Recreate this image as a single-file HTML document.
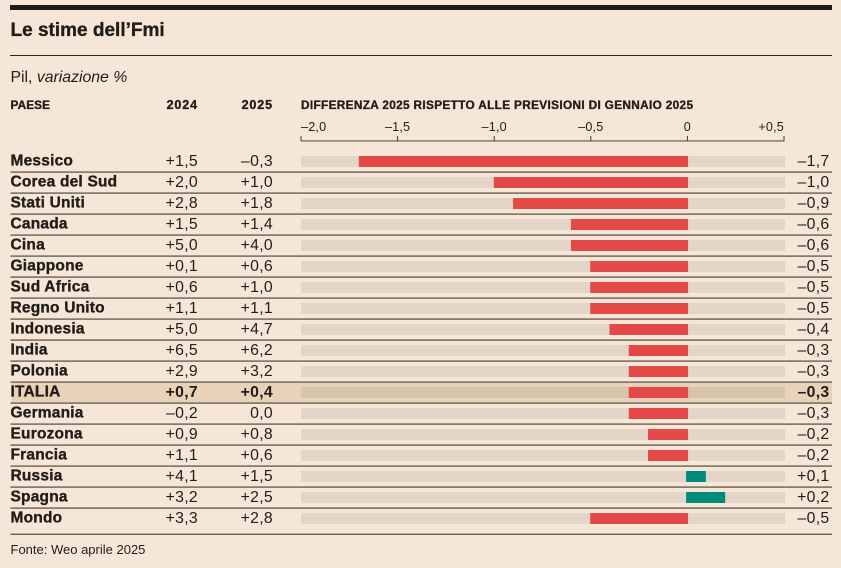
<!DOCTYPE html>
<html lang="it">
<head>
<meta charset="utf-8">
<title>Le stime dell'Fmi</title>
<style>
html,body{margin:0;padding:0;background:#f5e6d7;width:841px;height:568px;overflow:hidden}
svg{display:block}
text{font-family:"Liberation Sans",sans-serif;fill:#211d18}
.heavy{stroke:#211d18;stroke-width:0.35px;paint-order:stroke}
</style>
</head>
<body>
<svg id="chart" xmlns="http://www.w3.org/2000/svg" width="841" height="568" viewBox="0 0 841 568">
  <rect x="0" y="0" width="841" height="568" fill="#f5e6d7"/>
  <rect x="10" y="5" width="822" height="5" fill="#1e1a15"/>
  <text class="heavy" x="10.5" y="36" font-size="19" font-weight="700">Le stime dell’Fmi</text>
  <rect x="10" y="55" width="822" height="1" fill="#2a251f"/>
  <text x="10.5" y="82" font-size="15.8" fill="#3a352e">Pil, <tspan font-style="italic">variazione %</tspan></text>
  <text class="heavy" x="10.5" y="109" font-size="11.8" font-weight="700" letter-spacing="0.1">PAESE</text>
  <text class="heavy" x="198" y="109" font-size="12.5" font-weight="700" text-anchor="end" letter-spacing="0.9">2024</text>
  <text class="heavy" x="273" y="109" font-size="12.5" font-weight="700" text-anchor="end" letter-spacing="0.9">2025</text>
  <text class="heavy" x="301" y="109" font-size="11.8" font-weight="700" textLength="392" lengthAdjust="spacing">DIFFERENZA 2025 RISPETTO ALLE PREVISIONI DI GENNAIO 2025</text>
  <rect x="11.5" y="383" width="820.5" height="20" fill="#e8d2b8"/>
  <g id="axis"></g>
  <g id="rows"></g>
  <text x="10.5" y="554" font-size="13" fill="#3a352e">Fonte: Weo aprile 2025</text>
</svg>
<script>
var countries = ["Messico","Corea del Sud","Stati Uniti","Canada","Cina","Giappone","Sud Africa","Regno Unito","Indonesia","India","Polonia","ITALIA","Germania","Eurozona","Francia","Russia","Spagna","Mondo"];
var growth2024 = [1.5,2.0,2.8,1.5,5.0,0.1,0.6,1.1,5.0,6.5,2.9,0.7,-0.2,0.9,1.1,4.1,3.2,3.3];
var growth2025 = [-0.3,1.0,1.8,1.4,4.0,0.6,1.0,1.1,4.7,6.2,3.2,0.4,0.0,0.8,0.6,1.5,2.5,2.8];
var differences = [-1.7,-1.0,-0.9,-0.6,-0.6,-0.5,-0.5,-0.5,-0.4,-0.3,-0.3,-0.3,-0.3,-0.2,-0.2,0.1,0.2,-0.5];
var axisTicks = [-2.0,-1.5,-1.0,-0.5,0,0.5];
var highlightedCountry = "ITALIA";

var SVGNS = "http://www.w3.org/2000/svg";
var axisMin = -2.0, axisMax = 0.5, plotLeft = 301, plotRight = 784, trackRight = 785, barRight = 783;
function xScale(v){ return plotLeft + (v - axisMin) / (axisMax - axisMin) * (plotRight - plotLeft); }
function barScale(v){ return plotLeft + (v - axisMin) / (axisMax - axisMin) * (barRight - plotLeft); }
function rowTop(i){ return 151 + 21 * i; }
function fmt(v){
  var s = Math.abs(v).toFixed(1).replace(".", ",");
  if (v === 0) return s;
  return (v > 0 ? "+" : "–") + s;
}
function tickFmt(v){
  if (v === 0) return "0";
  return fmt(v);
}
function mk(tag, attrs, parent){
  var el = document.createElementNS(SVGNS, tag);
  for (var k in attrs) el.setAttribute(k, attrs[k]);
  parent.appendChild(el);
  return el;
}

var axisG = document.getElementById("axis");
var axisLine = mk("rect", {x: plotLeft, y: 140.4, width: plotRight - plotLeft + 0.5, height: 1.1, fill: "#5a5248"}, axisG);


axisTicks.forEach(function(t, i){
  var tick = mk("rect", {x: xScale(t) - 0.5, y: 136, width: 1, height: 5, fill: "#3f392f"}, axisG);
  
  
  var anchor = i === 0 ? "start" : (i === axisTicks.length - 1 ? "end" : "middle");
  var label = mk("text", {x: xScale(t), y: 131, "font-size": 12.6, "text-anchor": anchor, fill: "#4a443c", "letter-spacing": 0.2}, axisG);
  
  
  label.textContent = tickFmt(t);
});

var rowsG = document.getElementById("rows");
countries.forEach(function(name, i){
  var top = rowTop(i);
  var hi = name === highlightedCountry;
  var g = mk("g", {}, rowsG);
  
  

  var track = mk("rect", {x: plotLeft, y: top + 5, width: trackRight - plotLeft, height: 11, fill: hi ? "#d6c4af" : "#e3d6c8"}, g);
  
  

  var d = differences[i];
  var x0 = d < 0 ? barScale(d) : barScale(0) - 0.5;
  var x1 = d < 0 ? barScale(0) + 1.5 : barScale(d);
  var bar = mk("rect", {x: x0, y: top + 5, width: x1 - x0, height: 11, fill: d < 0 ? "#e34946" : "#008c7a"}, g);
  
  

  var label = mk("text", {x: 10.5, y: top + 14.5, "font-size": 15.5, "font-weight": 700, "letter-spacing": 0.2, "class": "heavy"}, g);
  
  
  label.textContent = name;

  var weight = hi ? 700 : 400;
  var v24 = mk("text", {x: 198, y: top + 15, "font-size": 15.8, "font-weight": weight, "text-anchor": "end", "letter-spacing": 0.3}, g);
  
  
  v24.textContent = fmt(growth2024[i]);

  var v25 = mk("text", {x: 273, y: top + 15, "font-size": 15.8, "font-weight": weight, "text-anchor": "end", "letter-spacing": 0.3}, g);
  
  
  v25.textContent = fmt(growth2025[i]);

  var vd = mk("text", {x: 829.5, y: top + 15, "font-size": 15.8, "font-weight": weight, "text-anchor": "end", "letter-spacing": 0.3}, g);
  
  
  vd.textContent = fmt(d);

  var sepY = i === countries.length - 1 ? 533.6 : top + 20.4;
  var sep = mk("rect", {x: 10.5, y: sepY, width: 821.5, height: 1.4, fill: "#6a6054"}, g);
  
  
});
</script>
</body>
</html>
